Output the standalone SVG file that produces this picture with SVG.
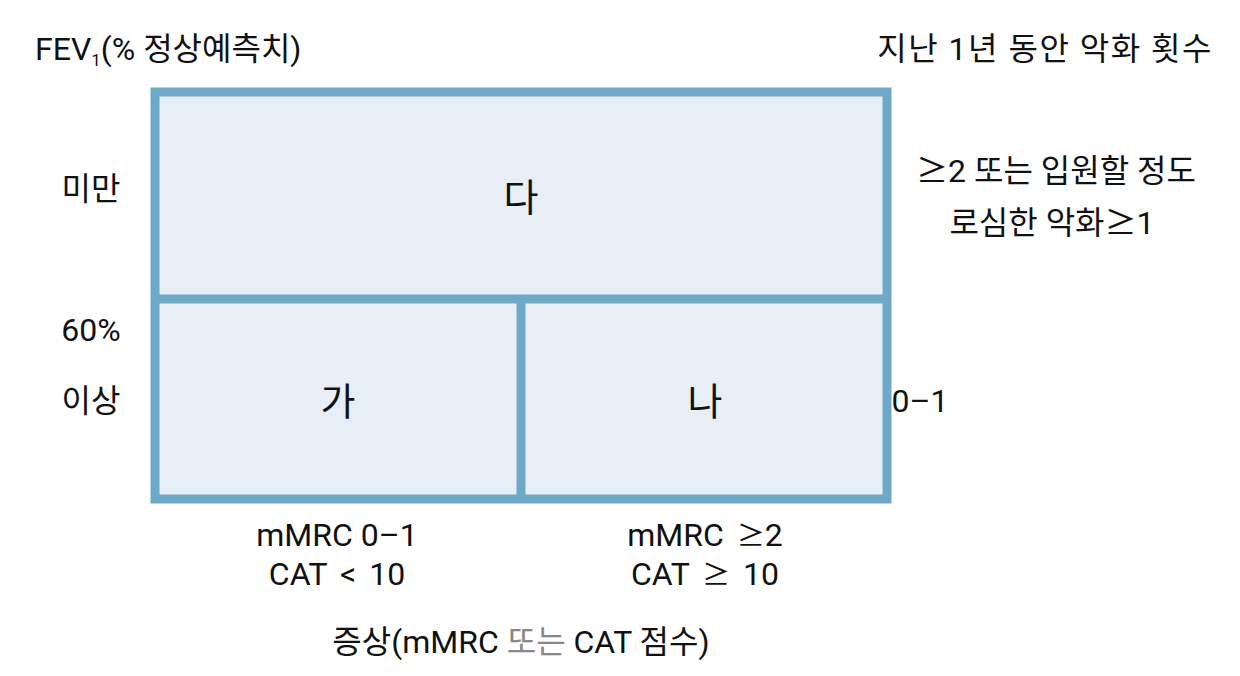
<svg xmlns="http://www.w3.org/2000/svg" width="1240" height="676" viewBox="0 0 1240 676">
<style>
text{font-family:Roboto,"Noto Sans CJK KR",sans-serif;fill:#111;}
.lb{font-size:32px;}
.big{font-size:38px;text-anchor:middle;font-family:"Noto Sans CJK KR",sans-serif;}
.sym{font-family:"Noto Sans CJK KR",sans-serif;}
.sm{font-size:28px;}
.ws{word-spacing:5px;}
.box{fill:#e7eef5;stroke:#6ea9c7;stroke-width:9;}
.div{stroke:#6ea9c7;stroke-width:9;fill:none;}
.gray{fill:#888;}
</style>
<rect width="1240" height="676" fill="#fff"/>
<g id="frame">
<rect class="box" x="155" y="92" width="732" height="407"/>
</g>
<g id="connectors">
<line class="div" x1="155" y1="299" x2="887" y2="299"/>
<line class="div" x1="521" y1="299" x2="521" y2="499"/>
</g>
<g id="node-da"><text class="big" x="521" y="211">다</text></g>
<g id="node-ga"><text class="big" x="338" y="415">가</text></g>
<g id="node-na"><text class="big" x="705" y="415">나</text></g>
<g id="labels">
<text class="lb" x="35" y="60">FEV<tspan font-size="17" dy="6">1</tspan><tspan dy="-6">(% 정상예측치)</tspan></text>
<text class="lb" x="1213" y="60" text-anchor="end" letter-spacing="1.5">지난 1년 동안 악화 횟수</text>
<text class="lb" x="91" y="200" text-anchor="middle">미만</text>
<text class="lb" x="91" y="341" text-anchor="middle">60%</text>
<text class="lb" x="91" y="412" text-anchor="middle">이상</text>
<text class="lb" x="920" y="412" text-anchor="middle">0–1</text>
<text class="lb" x="1056" y="182" text-anchor="middle"><tspan class="sym">≥</tspan>2 또는 입원할 정도</text>
<text class="lb" x="1052" y="234" text-anchor="middle">로심한 악화<tspan class="sym">≥</tspan>1</text>
<text class="lb" x="337" y="546" text-anchor="middle">mMRC 0–1</text>
<text class="lb ws" x="337" y="585" text-anchor="middle">CAT &lt; 10</text>
<text class="lb ws" x="705" y="546" text-anchor="middle">mMRC <tspan class="sym sm">≥</tspan>2</text>
<text class="lb ws" x="705" y="585" text-anchor="middle">CAT <tspan class="sym sm">≥</tspan> 10</text>
<text class="lb" x="521" y="653" text-anchor="middle">증상(mMRC <tspan class="gray">또는</tspan> CAT 점수)</text>
</g>
</svg>
